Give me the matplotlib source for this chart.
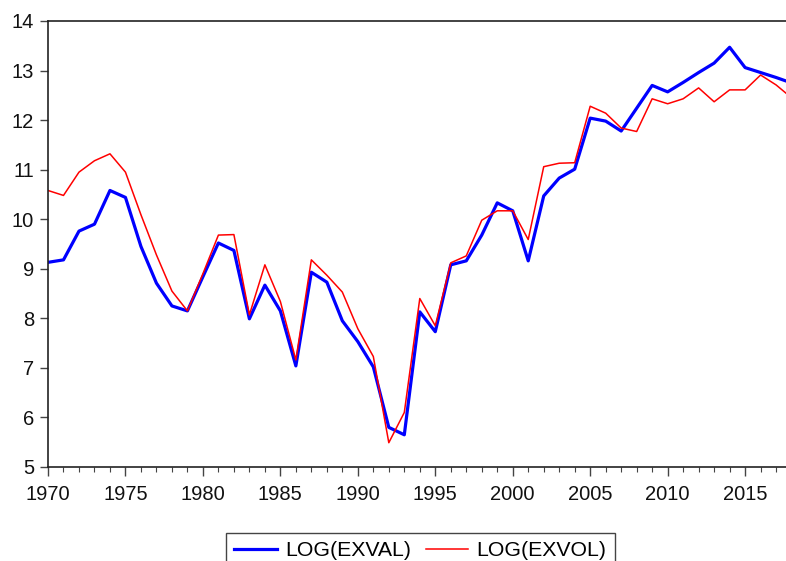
import matplotlib
matplotlib.use("Agg")
import matplotlib.pyplot as plt
from matplotlib.ticker import MultipleLocator

plt.rcParams['font.family'] = ['Liberation Sans', 'DejaVu Sans']

years = list(range(1970, 2019))
exval = [9.13, 9.18, 9.76, 9.90, 10.58, 10.44, 9.45, 8.71, 8.25, 8.15,
         8.84, 9.52, 9.37, 7.99, 8.67, 8.15, 7.04, 8.93, 8.73, 7.95,
         7.53, 7.02, 5.80, 5.65, 8.13, 7.73, 9.08, 9.16, 9.68, 10.33,
         10.17, 9.16, 10.47, 10.83, 11.01, 12.04, 11.98, 11.78, 12.24, 12.70,
         12.57, 12.76, 12.96, 13.15, 13.47, 13.06, 12.96, 12.86, 12.75]
exvol = [10.58, 10.48, 10.95, 11.18, 11.32, 10.95, 10.09, 9.28, 8.55, 8.15,
         8.90, 9.68, 9.69, 8.07, 9.08, 8.34, 7.16, 9.18, 8.87, 8.53,
         7.79, 7.23, 5.49, 6.10, 8.40, 7.85, 9.12, 9.26, 9.98, 10.17,
         10.17, 9.59, 11.06, 11.13, 11.14, 12.28, 12.14, 11.84, 11.77, 12.43,
         12.33, 12.43, 12.65, 12.37, 12.61, 12.61, 12.91, 12.71, 12.45]
labels = ['LOG(EXVAL)', 'LOG(EXVOL)']

fig = plt.figure(figsize=(7.86, 5.61), dpi=100)
ax = fig.add_axes([48/786, 1-467/561, 1-48/786, (467-21)/561])

ax.plot(years, exval, color='#0000ff', lw=2.3, label=labels[0])
ax.plot(years, exvol, color='#ff0000', lw=1.1, label=labels[1])

ax.set_xlim(1970, 2017.64)
ax.set_ylim(5, 14)
ax.xaxis.set_major_locator(MultipleLocator(5))
ax.xaxis.set_minor_locator(MultipleLocator(1))
ax.yaxis.set_major_locator(MultipleLocator(1))

for s in ['left', 'bottom', 'top']:
    ax.spines[s].set_linewidth(1.2)
    ax.spines[s].set_color('#222222')
ax.spines['right'].set_visible(False)

ax.tick_params(axis='both', which='major', direction='out', length=6.5, width=1.0,
               color='#444444', labelsize=14.5, labelcolor='#111111')
ax.tick_params(axis='x', which='minor', direction='out', length=3.5, width=0.8, color='#444444')
ax.tick_params(axis='y', which='major', length=6, pad=4)
ax.tick_params(axis='x', which='major', pad=6.5)

leg = fig.legend(loc='upper center', bbox_to_anchor=(420.5/786, 1-533/561), ncol=2,
                 borderaxespad=0, fancybox=False, edgecolor='#444444', fontsize=15.3,
                 handlelength=2.0, columnspacing=0.7, handletextpad=0.38,
                 borderpad=0.4, framealpha=1)
leg.get_frame().set_linewidth(1.0)

fig.savefig('out.png', dpi=100)
